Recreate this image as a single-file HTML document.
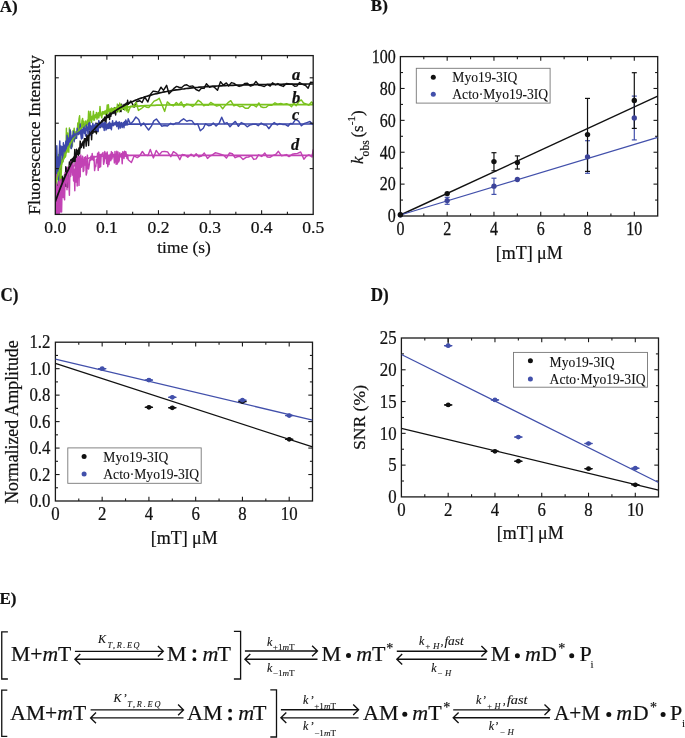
<!DOCTYPE html>
<html><head><meta charset="utf-8"><style>
html,body{margin:0;padding:0;background:#fff;width:685px;height:738px;overflow:hidden}
svg text{font-family:"Liberation Serif",serif;fill:#111;stroke:#111;stroke-width:0.22px}
</style></head><body>
<svg width="685" height="738" viewBox="0 0 685 738" style="position:absolute;left:0;top:0;filter:blur(0.3px);font-family:'Liberation Serif',serif">
<rect width="685" height="738" fill="#fff"/>
<text x="-0.20" y="11.60" font-size="17" text-anchor="start" style="font-weight:bold" >A)</text>
<text x="370.80" y="11.40" font-size="17" text-anchor="start" style="font-weight:bold" >B)</text>
<text transform="translate(0.50,300.90) scale(1,1.08)" font-size="17" text-anchor="start" style="font-weight:bold" >C)</text>
<text transform="translate(370.80,300.60) scale(1,1.08)" font-size="17" text-anchor="start" style="font-weight:bold" >D)</text>
<text x="-0.60" y="603.80" font-size="17" text-anchor="start" style="font-weight:bold" >E)</text>
<clipPath id="ca"><rect x="55.3" y="55.6" width="257.9" height="158.8"/></clipPath>
<g clip-path="url(#ca)">
<polyline points="55.6,216.4 56.2,196.5 56.8,216.4 57.4,187.7 58.0,185.0 58.6,181.1 59.2,204.2 59.8,179.9 60.4,204.7 61.0,176.7 61.6,190.8 62.2,176.3 62.8,187.9 63.4,178.2 64.0,181.4 64.6,174.6 65.2,186.2 65.8,166.8 66.4,186.2 67.0,168.1 67.6,187.2 68.2,167.9 68.8,171.7 69.4,161.9 70.0,170.4 70.6,160.0 71.2,159.6 71.8,171.7 72.4,158.5 73.0,162.0 73.6,157.3 74.2,161.2 74.8,149.4 75.4,165.3 76.0,161.2 76.6,149.3 77.2,154.2 77.8,150.4 78.4,155.7 79.0,148.1 79.6,153.8 80.2,141.1 80.8,145.3 81.4,147.5 82.0,143.9 82.6,142.9 83.2,141.2 83.8,148.1 84.4,138.8 85.0,138.7 85.6,138.7 86.2,146.1 86.8,134.8 87.4,140.4 88.0,136.0 88.6,145.5 89.2,131.0 89.8,133.3 90.4,134.6 91.0,126.8 91.6,139.7 92.2,127.1 92.8,133.3 93.4,129.5 94.0,132.0 94.6,128.0 95.2,132.1 95.8,123.3 96.4,133.8 97.0,123.3 97.6,131.6 98.2,125.9 98.8,121.9 99.4,127.2 100.0,122.6 100.6,127.3 101.2,123.2 101.8,120.7 102.4,122.0 103.0,119.2 103.6,120.6 104.2,118.4 104.8,116.9 105.4,125.3 106.0,122.0 106.6,112.6 107.2,117.7 107.8,115.7 108.4,117.3 109.0,114.2 109.6,119.5 110.2,111.9 110.8,116.3 111.4,112.8 112.0,113.8 112.6,111.8 113.2,110.5 113.8,113.4 114.4,107.7 115.0,110.4 115.6,115.0 116.2,109.6 116.8,108.6 117.4,111.5 118.0,104.9 118.6,109.5 119.2,106.6 119.8,111.3 120.4,108.3 121.0,111.6 121.6,104.3 122.2,107.5 122.8,106.9 123.4,109.2 124.0,104.4 124.6,105.9 125.2,104.0 125.8,107.3 126.4,102.9 127.0,109.5 127.6,100.3 128.2,104.2 130.9,101.0 134.1,107.2 136.4,101.8 139.6,100.7 142.1,102.5 144.7,97.0 147.8,101.9 150.4,94.4 153.1,91.1 155.3,91.5 158.3,92.1 161.0,87.2 163.5,90.4 166.6,85.3 169.0,93.8 171.7,91.1 174.0,88.3 176.6,86.4 179.0,87.3 181.4,87.8 184.4,85.3 186.8,84.8 189.5,86.5 192.8,85.9 196.0,89.5 198.9,90.9 201.6,88.1 204.1,88.4 206.4,83.7 209.6,87.2 212.4,86.4 214.6,87.4 217.5,90.2 220.5,81.7 223.3,85.1 226.4,82.9 228.6,86.0 231.4,82.6 234.0,83.4 236.3,85.1 239.1,86.4 242.2,85.5 245.0,83.4 247.4,83.3 250.5,86.1 253.2,85.1 255.9,81.4 258.9,85.3 261.2,85.6 264.3,86.5 267.2,84.4 270.2,86.0 272.5,82.8 275.6,84.9 277.9,83.6 280.2,85.3 283.3,86.4 286.4,83.5 289.5,83.9 292.1,84.1 294.6,86.3 296.8,86.1 299.6,82.5 302.5,84.4 305.6,85.5 308.1,88.3 310.5,82.3 313.2,82.5" fill="none" stroke="#111111" stroke-width="1.45" stroke-linejoin="round" opacity="1"/>
<polyline points="55.6,155.5 56.2,208.3 56.8,156.5 57.4,158.6 58.0,179.3 58.6,154.4 59.2,162.1 59.8,182.8 60.4,159.2 61.0,178.5 61.6,165.6 62.2,151.2 62.8,162.1 63.4,150.8 64.0,158.8 64.6,151.2 65.2,157.3 65.8,155.7 66.4,128.2 67.0,152.3 67.6,132.9 68.2,149.5 68.8,152.2 69.4,127.9 70.0,142.1 70.6,147.8 71.2,138.1 71.8,143.6 72.4,146.1 73.0,130.8 73.6,132.4 74.2,128.2 74.8,134.4 75.4,138.7 76.0,131.7 76.6,135.2 77.2,133.5 77.8,123.0 78.4,132.6 79.0,119.2 79.6,115.8 80.2,130.3 80.8,124.5 81.4,128.4 82.0,120.4 82.6,118.4 83.2,127.0 83.8,121.3 84.4,130.3 85.0,128.0 85.6,121.0 86.2,124.9 86.8,125.7 87.4,120.3 88.0,124.8 88.6,111.2 89.2,125.2 89.8,118.3 90.4,111.5 91.0,119.8 91.6,122.3 92.2,116.3 92.8,119.0 93.4,111.2 94.0,120.4 94.6,118.9 95.2,114.8 95.8,117.6 96.4,112.5 97.0,119.2 97.6,116.4 98.2,112.7 98.8,117.9 99.4,114.9 100.0,106.4 100.6,114.6 101.2,116.0 101.8,117.8 102.4,111.6 103.0,114.4 103.6,111.8 104.2,113.7 104.8,111.1 105.4,114.4 106.0,110.4 106.6,113.0 107.2,105.0 107.8,113.6 108.4,104.7 109.0,111.5 109.6,109.6 110.2,108.9 110.8,111.9 111.4,108.0 112.0,112.8 112.6,108.4 113.2,110.4 113.8,108.6 114.4,109.9 115.0,107.6 115.6,109.9 116.2,107.5 116.8,112.2 117.4,104.1 118.0,110.4 118.6,106.6 119.2,112.0 119.8,103.1 120.4,109.6 121.0,104.7 121.6,109.6 122.2,106.6 122.8,108.3 123.4,106.7 124.0,106.9 124.6,110.0 125.2,105.9 125.8,104.8 126.4,110.9 127.0,104.4 127.6,108.1 128.2,112.6 130.6,106.3 133.1,106.2 136.2,102.4 138.4,110.4 141.2,108.7 144.2,106.2 146.5,107.2 148.8,107.5 151.2,104.6 154.1,101.1 156.9,100.0 159.2,98.3 161.8,104.5 164.7,111.4 167.3,101.9 170.1,104.4 173.4,105.9 176.3,102.5 178.8,104.7 181.2,101.9 183.7,107.0 186.4,103.9 189.6,104.7 192.6,106.4 195.1,104.2 198.2,100.3 200.9,102.1 203.8,105.7 206.1,104.8 208.3,105.2 210.7,102.4 213.8,104.3 216.7,106.1 219.8,105.1 222.7,108.8 225.3,105.4 228.0,102.7 230.8,100.7 233.9,105.8 236.5,104.8 239.6,106.7 242.5,106.1 245.5,108.3 248.2,108.2 251.1,104.9 253.6,105.2 256.4,106.9 258.8,102.9 261.0,106.8 263.2,107.5 266.2,107.3 268.8,105.0 271.9,105.3 275.0,102.8 277.6,104.2 280.8,103.4 283.6,104.4 286.6,103.7 289.2,104.8 291.5,106.8 293.9,102.9 296.2,105.7 299.1,101.4 301.3,99.9 303.5,103.0 306.6,104.1 308.8,105.2 311.5,101.9 313.2,103.7" fill="none" stroke="#7ac21e" stroke-width="1.45" stroke-linejoin="round" opacity="1"/>
<polyline points="55.6,152.6 56.2,196.5 56.8,145.8 57.4,170.7 58.0,157.3 58.6,180.0 59.2,153.3 59.8,140.9 60.4,169.0 61.0,146.0 61.6,154.9 62.2,146.8 62.8,161.2 63.4,142.8 64.0,151.1 64.6,145.3 65.2,153.4 65.8,141.2 66.4,151.0 67.0,135.2 67.6,139.1 68.2,146.3 68.8,138.0 69.4,142.1 70.0,129.8 70.6,131.8 71.2,148.6 71.8,147.3 72.4,135.2 73.0,139.9 73.6,131.5 74.2,141.7 74.8,134.0 75.4,138.1 76.0,133.2 76.6,138.3 77.2,128.3 77.8,131.5 78.4,134.6 79.0,130.4 79.6,133.8 80.2,124.0 80.8,134.4 81.4,139.0 82.0,129.6 82.6,138.1 83.2,126.4 83.8,124.6 84.4,133.5 85.0,128.6 85.6,136.0 86.2,124.8 86.8,130.5 87.4,126.9 88.0,134.0 88.6,123.2 89.2,129.2 89.8,122.2 90.4,135.0 91.0,125.8 91.6,131.9 92.2,131.5 92.8,123.3 93.4,130.3 94.0,125.3 94.6,130.4 95.2,124.3 95.8,123.8 96.4,130.1 97.0,124.5 97.6,130.4 98.2,131.5 98.8,120.5 99.4,125.2 100.0,127.8 100.6,124.1 101.2,126.6 101.8,122.5 102.4,125.0 103.0,127.6 103.6,122.9 104.2,130.5 104.8,122.9 105.4,122.5 106.0,130.1 106.6,128.2 107.2,124.2 107.8,128.6 108.4,123.2 109.0,128.2 109.6,122.1 110.2,128.2 110.8,123.6 111.4,129.7 112.0,124.1 112.6,120.8 113.2,125.7 113.8,123.9 114.4,122.8 115.0,123.8 115.6,122.9 116.2,121.1 116.8,126.6 117.4,122.4 118.0,122.6 118.6,128.9 119.2,121.8 119.8,125.1 120.4,128.0 121.0,122.5 121.6,122.6 122.2,127.6 122.8,125.2 123.4,122.6 124.0,127.7 124.6,121.4 125.2,125.2 125.8,119.9 126.4,121.7 127.0,125.1 127.6,122.9 128.2,118.8 130.5,124.1 132.9,121.6 135.9,117.0 138.7,119.5 140.9,125.8 143.6,122.9 146.2,126.9 148.6,130.0 151.5,125.9 153.8,120.9 156.4,119.0 159.1,122.5 161.7,126.2 164.5,125.5 167.5,126.0 170.7,123.3 173.2,124.6 176.0,122.9 178.9,122.8 181.4,120.3 183.6,118.8 186.8,121.3 189.3,120.4 191.8,120.6 194.9,124.6 197.7,123.9 200.3,130.8 203.3,128.2 205.5,123.8 208.5,125.7 211.0,125.3 213.3,122.9 216.1,126.1 219.3,122.9 221.7,117.2 224.5,123.6 227.0,122.6 230.0,126.7 232.9,123.5 235.3,121.4 238.4,126.3 241.2,122.6 244.1,124.0 247.2,126.8 249.8,125.1 252.8,124.2 255.9,124.2 258.2,125.7 261.2,123.0 263.8,124.8 266.5,125.3 268.8,128.7 271.7,124.8 274.2,122.6 277.3,124.9 279.8,123.6 282.5,124.4 285.1,124.4 288.0,126.2 290.3,123.5 292.7,123.7 295.6,119.4 298.6,121.1 301.4,125.8 304.5,123.4 306.9,122.6 310.0,121.5 312.4,124.2 313.2,124.4" fill="none" stroke="#3c48aa" stroke-width="1.45" stroke-linejoin="round" opacity="1"/>
<polyline points="55.6,216.4 56.2,174.5 56.8,213.7 57.4,186.4 58.0,216.4 58.6,181.7 59.2,216.4 59.8,181.2 60.4,211.9 61.0,179.2 61.6,212.1 62.2,183.1 62.8,197.4 63.4,181.1 64.0,197.3 64.6,199.7 65.2,172.6 65.8,182.9 66.4,173.5 67.0,189.7 67.6,167.2 68.2,180.7 68.8,182.8 69.4,195.3 70.0,165.6 70.6,176.5 71.2,161.4 71.8,164.4 72.4,175.1 73.0,162.9 73.6,181.0 74.2,169.2 74.8,190.8 75.4,162.6 76.0,182.1 76.6,158.4 77.2,186.1 77.8,156.1 78.4,159.4 79.0,185.4 79.6,156.4 80.2,176.8 80.8,155.0 81.4,167.2 82.0,162.9 82.6,156.3 83.2,171.6 83.8,170.7 84.4,157.4 85.0,165.0 85.6,156.7 86.2,175.1 86.8,172.5 87.4,155.1 88.0,168.2 88.6,169.0 89.2,165.1 89.8,159.7 90.4,160.4 91.0,156.2 91.6,159.8 92.2,153.5 92.8,159.4 93.4,160.5 94.0,156.3 94.6,170.6 95.2,166.0 95.8,166.5 96.4,159.5 97.0,162.8 97.6,153.3 98.2,170.4 98.8,152.1 99.4,167.4 100.0,154.4 100.6,166.7 101.2,154.3 101.8,154.7 102.4,154.0 103.0,152.5 103.6,164.3 104.2,161.6 104.8,151.5 105.4,158.5 106.0,153.3 106.6,163.5 107.2,152.0 107.8,166.7 108.4,155.3 109.0,164.6 109.6,158.0 110.2,154.2 110.8,160.7 111.4,151.6 112.0,158.9 112.6,152.8 113.2,156.7 113.8,154.7 114.4,162.9 115.0,151.4 115.6,158.9 116.2,164.3 116.8,151.2 117.4,163.9 118.0,151.9 118.6,162.1 119.2,160.5 119.8,152.8 120.4,156.5 121.0,157.0 121.6,153.5 122.2,163.7 122.8,151.8 123.4,152.4 124.0,158.5 124.6,151.3 125.2,156.4 125.8,151.7 126.4,154.6 127.0,158.5 127.6,154.9 128.2,159.7 131.4,162.5 134.1,155.9 137.3,157.6 139.6,155.9 142.4,151.5 144.9,155.0 148.0,155.5 150.3,149.5 153.4,157.9 156.2,150.4 159.3,154.8 162.0,151.6 164.6,151.5 167.6,151.9 170.8,156.7 173.4,151.7 176.6,153.7 179.8,159.7 182.1,154.5 184.9,155.0 187.8,157.2 191.0,154.2 193.9,156.4 196.2,153.8 198.9,156.9 201.6,156.0 204.3,153.0 207.5,158.4 210.0,156.0 212.4,154.8 215.2,152.8 218.0,153.4 221.2,154.5 224.0,155.5 226.4,158.1 229.6,153.0 232.3,153.8 235.2,157.7 237.8,156.5 240.2,156.6 243.1,159.4 246.1,157.3 248.5,157.0 251.2,155.7 253.7,159.4 256.1,158.9 258.5,154.8 261.7,156.4 264.8,153.1 267.3,157.0 270.3,157.3 272.5,155.6 275.7,154.5 278.4,151.3 281.4,155.7 283.9,155.2 286.5,154.6 289.0,156.6 292.2,154.3 294.8,153.8 297.5,153.4 300.7,152.0 303.9,159.2 306.4,156.1 308.9,154.8 312.0,157.0 313.2,149.4" fill="none" stroke="#c242b4" stroke-width="1.45" stroke-linejoin="round" opacity="1"/>
<polyline points="55.3,184.6 55.7,183.0 56.1,181.5 56.6,180.0 57.0,178.5 57.4,177.0 57.8,175.6 58.2,174.2 58.6,172.8 59.1,171.5 59.5,170.1 59.9,168.8 60.3,167.6 60.7,166.3 61.2,165.1 61.6,163.9 62.0,162.8 62.4,161.6 62.8,160.5 63.3,159.4 63.7,158.3 64.1,157.2 64.5,156.2 64.9,155.2 65.3,154.2 65.8,153.2 66.2,152.2 66.6,151.3 67.0,150.4 67.4,149.5 67.9,148.6 68.3,147.7 68.7,146.9 69.1,146.0 69.5,145.2 70.0,144.4 70.4,143.6 70.8,142.9 71.2,142.1 71.6,141.4 72.0,140.6 72.5,139.9 72.9,139.2 73.3,138.5 73.7,137.9 74.1,137.2 74.6,136.6 75.0,135.9 75.4,135.3 75.8,134.7 76.2,134.1 76.7,133.5 77.1,133.0 77.5,132.4 77.9,131.9 78.3,131.3 78.7,130.8 79.2,130.3 79.6,129.8 80.0,129.3 80.5,128.7 82.5,126.6 84.4,124.6 86.4,122.8 88.3,121.2 90.3,119.7 92.2,118.4 94.2,117.2 96.1,116.0 98.1,115.0 100.1,114.1 102.0,113.3 104.0,112.5 105.9,111.8 107.9,111.1 109.8,110.6 111.8,110.0 113.7,109.5 115.7,109.1 117.7,108.7 119.6,108.3 121.6,108.0 123.5,107.7 125.5,107.4 127.4,107.2 129.4,106.9 131.3,106.7 133.3,106.6 135.3,106.4 137.2,106.2 139.2,106.1 141.1,105.9 143.1,105.8 145.0,105.7 147.0,105.6 148.9,105.5 150.9,105.4 152.9,105.4 154.8,105.3 156.8,105.2 158.7,105.2 160.7,105.1 162.6,105.1 164.6,105.0 166.5,105.0 168.5,105.0 170.5,104.9 172.4,104.9 174.4,104.9 176.3,104.9 178.3,104.8 180.2,104.8 182.2,104.8 184.1,104.8 186.1,104.8 188.1,104.7 190.0,104.7 192.0,104.7 193.9,104.7 195.9,104.7 197.8,104.7 199.8,104.7 201.7,104.7 203.7,104.7 205.6,104.7 207.6,104.7 209.6,104.7 211.5,104.6 213.5,104.6 215.4,104.6 217.4,104.6 219.3,104.6 221.3,104.6 223.2,104.6 225.2,104.6 227.2,104.6 229.1,104.6 231.1,104.6 233.0,104.6 235.0,104.6 236.9,104.6 238.9,104.6 240.8,104.6 242.8,104.6 244.8,104.6 246.7,104.6 248.7,104.6 250.6,104.6 252.6,104.6 254.5,104.6 256.5,104.6 258.4,104.6 260.4,104.6 262.4,104.6 264.3,104.6 266.3,104.6 268.2,104.6 270.2,104.6 272.1,104.6 274.1,104.6 276.0,104.6 278.0,104.6 280.0,104.6 281.9,104.6 283.9,104.6 285.8,104.6 287.8,104.6 289.7,104.6 291.7,104.6 293.6,104.6 295.6,104.6 297.6,104.6 299.5,104.6 301.5,104.6 303.4,104.6 305.4,104.6 307.3,104.6 309.3,104.6 311.2,104.6 313.2,104.6" fill="none" stroke="#7ac21e" stroke-width="1.7" stroke-linejoin="round" opacity="1"/>
<polyline points="55.3,169.0 55.7,167.7 56.1,166.4 56.6,165.1 57.0,163.9 57.4,162.8 57.8,161.6 58.2,160.5 58.6,159.4 59.1,158.4 59.5,157.4 59.9,156.4 60.3,155.4 60.7,154.5 61.2,153.6 61.6,152.7 62.0,151.9 62.4,151.1 62.8,150.3 63.3,149.5 63.7,148.7 64.1,148.0 64.5,147.3 64.9,146.6 65.3,146.0 65.8,145.3 66.2,144.7 66.6,144.1 67.0,143.5 67.4,142.9 67.9,142.3 68.3,141.8 68.7,141.3 69.1,140.8 69.5,140.3 70.0,139.8 70.4,139.3 70.8,138.9 71.2,138.4 71.6,138.0 72.0,137.6 72.5,137.2 72.9,136.8 73.3,136.4 73.7,136.1 74.1,135.7 74.6,135.4 75.0,135.0 75.4,134.7 75.8,134.4 76.2,134.1 76.7,133.8 77.1,133.5 77.5,133.2 77.9,133.0 78.3,132.7 78.7,132.4 79.2,132.2 79.6,131.9 80.0,131.7 80.5,131.4 82.5,130.5 84.4,129.6 86.4,128.9 88.3,128.3 90.3,127.7 92.2,127.2 94.2,126.8 96.1,126.4 98.1,126.1 100.1,125.8 102.0,125.6 104.0,125.4 105.9,125.2 107.9,125.1 109.8,124.9 111.8,124.8 113.7,124.7 115.7,124.6 117.7,124.5 119.6,124.5 121.6,124.4 123.5,124.3 125.5,124.3 127.4,124.3 129.4,124.2 131.3,124.2 133.3,124.2 135.3,124.1 137.2,124.1 139.2,124.1 141.1,124.1 143.1,124.1 145.0,124.1 147.0,124.1 148.9,124.1 150.9,124.0 152.9,124.0 154.8,124.0 156.8,124.0 158.7,124.0 160.7,124.0 162.6,124.0 164.6,124.0 166.5,124.0 168.5,124.0 170.5,124.0 172.4,124.0 174.4,124.0 176.3,124.0 178.3,124.0 180.2,124.0 182.2,124.0 184.1,124.0 186.1,124.0 188.1,124.0 190.0,124.0 192.0,124.0 193.9,124.0 195.9,124.0 197.8,124.0 199.8,124.0 201.7,124.0 203.7,124.0 205.6,124.0 207.6,124.0 209.6,124.0 211.5,124.0 213.5,124.0 215.4,124.0 217.4,124.0 219.3,124.0 221.3,124.0 223.2,124.0 225.2,124.0 227.2,124.0 229.1,124.0 231.1,124.0 233.0,124.0 235.0,124.0 236.9,124.0 238.9,124.0 240.8,124.0 242.8,124.0 244.8,124.0 246.7,124.0 248.7,124.0 250.6,124.0 252.6,124.0 254.5,124.0 256.5,124.0 258.4,124.0 260.4,124.0 262.4,124.0 264.3,124.0 266.3,124.0 268.2,124.0 270.2,124.0 272.1,124.0 274.1,124.0 276.0,124.0 278.0,124.0 280.0,124.0 281.9,124.0 283.9,124.0 285.8,124.0 287.8,124.0 289.7,124.0 291.7,124.0 293.6,124.0 295.6,124.0 297.6,124.0 299.5,124.0 301.5,124.0 303.4,124.0 305.4,124.0 307.3,124.0 309.3,124.0 311.2,124.0 313.2,124.0" fill="none" stroke="#3c48aa" stroke-width="1.7" stroke-linejoin="round" opacity="1"/>
<polyline points="55.3,213.3 55.7,211.1 56.1,209.0 56.6,207.0 57.0,205.1 57.4,203.2 57.8,201.5 58.2,199.7 58.6,198.1 59.1,196.5 59.5,194.9 59.9,193.5 60.3,192.0 60.7,190.7 61.2,189.3 61.6,188.1 62.0,186.8 62.4,185.7 62.8,184.5 63.3,183.4 63.7,182.4 64.1,181.4 64.5,180.4 64.9,179.5 65.3,178.6 65.8,177.7 66.2,176.9 66.6,176.1 67.0,175.3 67.4,174.5 67.9,173.8 68.3,173.1 68.7,172.5 69.1,171.8 69.5,171.2 70.0,170.6 70.4,170.0 70.8,169.5 71.2,169.0 71.6,168.4 72.0,168.0 72.5,167.5 72.9,167.0 73.3,166.6 73.7,166.2 74.1,165.8 74.6,165.4 75.0,165.0 75.4,164.6 75.8,164.3 76.2,163.9 76.7,163.6 77.1,163.3 77.5,163.0 77.9,162.7 78.3,162.5 78.7,162.2 79.2,161.9 79.6,161.7 80.0,161.4 80.5,161.2 82.5,160.2 84.4,159.4 86.4,158.7 88.3,158.2 90.3,157.7 92.2,157.3 94.2,157.0 96.1,156.7 98.1,156.5 100.1,156.3 102.0,156.1 104.0,156.0 105.9,155.9 107.9,155.8 109.8,155.7 111.8,155.6 113.7,155.6 115.7,155.5 117.7,155.5 119.6,155.5 121.6,155.4 123.5,155.4 125.5,155.4 127.4,155.4 129.4,155.4 131.3,155.4 133.3,155.3 135.3,155.3 137.2,155.3 139.2,155.3 141.1,155.3 143.1,155.3 145.0,155.3 147.0,155.3 148.9,155.3 150.9,155.3 152.9,155.3 154.8,155.3 156.8,155.3 158.7,155.3 160.7,155.3 162.6,155.3 164.6,155.3 166.5,155.3 168.5,155.3 170.5,155.3 172.4,155.3 174.4,155.3 176.3,155.3 178.3,155.3 180.2,155.3 182.2,155.3 184.1,155.3 186.1,155.3 188.1,155.3 190.0,155.3 192.0,155.3 193.9,155.3 195.9,155.3 197.8,155.3 199.8,155.3 201.7,155.3 203.7,155.3 205.6,155.3 207.6,155.3 209.6,155.3 211.5,155.3 213.5,155.3 215.4,155.3 217.4,155.3 219.3,155.3 221.3,155.3 223.2,155.3 225.2,155.3 227.2,155.3 229.1,155.3 231.1,155.3 233.0,155.3 235.0,155.3 236.9,155.3 238.9,155.3 240.8,155.3 242.8,155.3 244.8,155.3 246.7,155.3 248.7,155.3 250.6,155.3 252.6,155.3 254.5,155.3 256.5,155.3 258.4,155.3 260.4,155.3 262.4,155.3 264.3,155.3 266.3,155.3 268.2,155.3 270.2,155.3 272.1,155.3 274.1,155.3 276.0,155.3 278.0,155.3 280.0,155.3 281.9,155.3 283.9,155.3 285.8,155.3 287.8,155.3 289.7,155.3 291.7,155.3 293.6,155.3 295.6,155.3 297.6,155.3 299.5,155.3 301.5,155.3 303.4,155.3 305.4,155.3 307.3,155.3 309.3,155.3 311.2,155.3 313.2,155.3" fill="none" stroke="#c242b4" stroke-width="1.7" stroke-linejoin="round" opacity="1"/>
<polyline points="55.3,201.8 55.7,200.6 56.1,199.4 56.6,198.2 57.0,197.0 57.4,195.9 57.8,194.7 58.2,193.6 58.6,192.5 59.1,191.4 59.5,190.3 59.9,189.2 60.3,188.1 60.7,187.0 61.2,186.0 61.6,184.9 62.0,183.9 62.4,182.9 62.8,181.9 63.3,180.9 63.7,179.9 64.1,178.9 64.5,177.9 64.9,176.9 65.3,176.0 65.8,175.0 66.2,174.1 66.6,173.2 67.0,172.3 67.4,171.4 67.9,170.5 68.3,169.6 68.7,168.7 69.1,167.8 69.5,167.0 70.0,166.1 70.4,165.3 70.8,164.4 71.2,163.6 71.6,162.8 72.0,162.0 72.5,161.2 72.9,160.4 73.3,159.6 73.7,158.8 74.1,158.1 74.6,157.3 75.0,156.6 75.4,155.8 75.8,155.1 76.2,154.4 76.7,153.6 77.1,152.9 77.5,152.2 77.9,151.5 78.3,150.8 78.7,150.1 79.2,149.5 79.6,148.8 80.0,148.1 80.5,147.3 82.5,144.4 84.4,141.5 86.4,138.8 88.3,136.2 90.3,133.8 92.2,131.4 94.2,129.2 96.1,127.1 98.1,125.0 100.1,123.1 102.0,121.3 104.0,119.5 105.9,117.8 107.9,116.2 109.8,114.7 111.8,113.3 113.7,111.9 115.7,110.6 117.7,109.3 119.6,108.1 121.6,107.0 123.5,105.9 125.5,104.8 127.4,103.9 129.4,102.9 131.3,102.0 133.3,101.2 135.3,100.3 137.2,99.6 139.2,98.8 141.1,98.1 143.1,97.5 145.0,96.8 147.0,96.2 148.9,95.6 150.9,95.1 152.9,94.5 154.8,94.0 156.8,93.6 158.7,93.1 160.7,92.7 162.6,92.2 164.6,91.8 166.5,91.5 168.5,91.1 170.5,90.8 172.4,90.4 174.4,90.1 176.3,89.8 178.3,89.6 180.2,89.3 182.2,89.0 184.1,88.8 186.1,88.5 188.1,88.3 190.0,88.1 192.0,87.9 193.9,87.7 195.9,87.5 197.8,87.4 199.8,87.2 201.7,87.0 203.7,86.9 205.6,86.7 207.6,86.6 209.6,86.5 211.5,86.3 213.5,86.2 215.4,86.1 217.4,86.0 219.3,85.9 221.3,85.8 223.2,85.7 225.2,85.6 227.2,85.5 229.1,85.4 231.1,85.4 233.0,85.3 235.0,85.2 236.9,85.2 238.9,85.1 240.8,85.0 242.8,85.0 244.8,84.9 246.7,84.9 248.7,84.8 250.6,84.8 252.6,84.7 254.5,84.7 256.5,84.6 258.4,84.6 260.4,84.6 262.4,84.5 264.3,84.5 266.3,84.5 268.2,84.4 270.2,84.4 272.1,84.4 274.1,84.3 276.0,84.3 278.0,84.3 280.0,84.3 281.9,84.3 283.9,84.2 285.8,84.2 287.8,84.2 289.7,84.2 291.7,84.2 293.6,84.1 295.6,84.1 297.6,84.1 299.5,84.1 301.5,84.1 303.4,84.1 305.4,84.1 307.3,84.0 309.3,84.0 311.2,84.0 313.2,84.0" fill="none" stroke="#111111" stroke-width="1.7" stroke-linejoin="round" opacity="1"/>
</g>
<rect x="55.30" y="55.60" width="257.90" height="158.80" fill="none" stroke="#1a1a1a" stroke-width="1.3"/>
<line x1="106.88" y1="214.40" x2="106.88" y2="210.20" stroke="#1a1a1a" stroke-width="1.1" />
<line x1="106.88" y1="55.60" x2="106.88" y2="59.80" stroke="#1a1a1a" stroke-width="1.1" />
<line x1="158.46" y1="214.40" x2="158.46" y2="210.20" stroke="#1a1a1a" stroke-width="1.1" />
<line x1="158.46" y1="55.60" x2="158.46" y2="59.80" stroke="#1a1a1a" stroke-width="1.1" />
<line x1="210.04" y1="214.40" x2="210.04" y2="210.20" stroke="#1a1a1a" stroke-width="1.1" />
<line x1="210.04" y1="55.60" x2="210.04" y2="59.80" stroke="#1a1a1a" stroke-width="1.1" />
<line x1="261.62" y1="214.40" x2="261.62" y2="210.20" stroke="#1a1a1a" stroke-width="1.1" />
<line x1="261.62" y1="55.60" x2="261.62" y2="59.80" stroke="#1a1a1a" stroke-width="1.1" />
<line x1="81.09" y1="214.40" x2="81.09" y2="211.80" stroke="#1a1a1a" stroke-width="1.1" />
<line x1="81.09" y1="55.60" x2="81.09" y2="58.20" stroke="#1a1a1a" stroke-width="1.1" />
<line x1="132.67" y1="214.40" x2="132.67" y2="211.80" stroke="#1a1a1a" stroke-width="1.1" />
<line x1="132.67" y1="55.60" x2="132.67" y2="58.20" stroke="#1a1a1a" stroke-width="1.1" />
<line x1="184.25" y1="214.40" x2="184.25" y2="211.80" stroke="#1a1a1a" stroke-width="1.1" />
<line x1="184.25" y1="55.60" x2="184.25" y2="58.20" stroke="#1a1a1a" stroke-width="1.1" />
<line x1="235.83" y1="214.40" x2="235.83" y2="211.80" stroke="#1a1a1a" stroke-width="1.1" />
<line x1="235.83" y1="55.60" x2="235.83" y2="58.20" stroke="#1a1a1a" stroke-width="1.1" />
<line x1="287.41" y1="214.40" x2="287.41" y2="211.80" stroke="#1a1a1a" stroke-width="1.1" />
<line x1="287.41" y1="55.60" x2="287.41" y2="58.20" stroke="#1a1a1a" stroke-width="1.1" />
<line x1="55.30" y1="77.80" x2="58.80" y2="77.80" stroke="#1a1a1a" stroke-width="1.1" />
<line x1="313.20" y1="77.80" x2="309.70" y2="77.80" stroke="#1a1a1a" stroke-width="1.1" />
<line x1="55.30" y1="123.20" x2="58.80" y2="123.20" stroke="#1a1a1a" stroke-width="1.1" />
<line x1="313.20" y1="123.20" x2="309.70" y2="123.20" stroke="#1a1a1a" stroke-width="1.1" />
<line x1="55.30" y1="168.60" x2="58.80" y2="168.60" stroke="#1a1a1a" stroke-width="1.1" />
<line x1="313.20" y1="168.60" x2="309.70" y2="168.60" stroke="#1a1a1a" stroke-width="1.1" />
<text transform="translate(55.30,232.90) scale(1,0.92)" font-size="17.6" text-anchor="middle" style="" >0.0</text>
<text transform="translate(106.88,232.90) scale(1,0.92)" font-size="17.6" text-anchor="middle" style="" >0.1</text>
<text transform="translate(158.46,232.90) scale(1,0.92)" font-size="17.6" text-anchor="middle" style="" >0.2</text>
<text transform="translate(210.04,232.90) scale(1,0.92)" font-size="17.6" text-anchor="middle" style="" >0.3</text>
<text transform="translate(261.62,232.90) scale(1,0.92)" font-size="17.6" text-anchor="middle" style="" >0.4</text>
<text transform="translate(313.20,232.90) scale(1,0.92)" font-size="17.6" text-anchor="middle" style="" >0.5</text>
<text transform="translate(184.00,252.60) scale(1,0.95)" font-size="17.35" text-anchor="middle" style="" >time (s)</text>
<text transform="translate(39.6,135.0) rotate(-90)" font-size="17.7" text-anchor="middle">Fluorescence Intensity</text>
<text x="292.00" y="79.60" font-size="16.5" text-anchor="start" style="font-weight:bold;font-style:italic" >a</text>
<text x="292.00" y="102.80" font-size="16.5" text-anchor="start" style="font-weight:bold;font-style:italic" >b</text>
<text x="292.00" y="119.50" font-size="16.5" text-anchor="start" style="font-weight:bold;font-style:italic" >c</text>
<text x="291.00" y="150.00" font-size="16.5" text-anchor="start" style="font-weight:bold;font-style:italic" >d</text>
<rect x="400.40" y="56.60" width="257.30" height="159.40" fill="none" stroke="#1a1a1a" stroke-width="1.3"/>
<line x1="447.18" y1="216.00" x2="447.18" y2="211.80" stroke="#1a1a1a" stroke-width="1.1" />
<line x1="447.18" y1="56.60" x2="447.18" y2="60.80" stroke="#1a1a1a" stroke-width="1.1" />
<line x1="493.96" y1="216.00" x2="493.96" y2="211.80" stroke="#1a1a1a" stroke-width="1.1" />
<line x1="493.96" y1="56.60" x2="493.96" y2="60.80" stroke="#1a1a1a" stroke-width="1.1" />
<line x1="540.74" y1="216.00" x2="540.74" y2="211.80" stroke="#1a1a1a" stroke-width="1.1" />
<line x1="540.74" y1="56.60" x2="540.74" y2="60.80" stroke="#1a1a1a" stroke-width="1.1" />
<line x1="587.52" y1="216.00" x2="587.52" y2="211.80" stroke="#1a1a1a" stroke-width="1.1" />
<line x1="587.52" y1="56.60" x2="587.52" y2="60.80" stroke="#1a1a1a" stroke-width="1.1" />
<line x1="634.30" y1="216.00" x2="634.30" y2="211.80" stroke="#1a1a1a" stroke-width="1.1" />
<line x1="634.30" y1="56.60" x2="634.30" y2="60.80" stroke="#1a1a1a" stroke-width="1.1" />
<line x1="423.79" y1="216.00" x2="423.79" y2="213.40" stroke="#1a1a1a" stroke-width="1.1" />
<line x1="423.79" y1="56.60" x2="423.79" y2="59.20" stroke="#1a1a1a" stroke-width="1.1" />
<line x1="470.57" y1="216.00" x2="470.57" y2="213.40" stroke="#1a1a1a" stroke-width="1.1" />
<line x1="470.57" y1="56.60" x2="470.57" y2="59.20" stroke="#1a1a1a" stroke-width="1.1" />
<line x1="517.35" y1="216.00" x2="517.35" y2="213.40" stroke="#1a1a1a" stroke-width="1.1" />
<line x1="517.35" y1="56.60" x2="517.35" y2="59.20" stroke="#1a1a1a" stroke-width="1.1" />
<line x1="564.13" y1="216.00" x2="564.13" y2="213.40" stroke="#1a1a1a" stroke-width="1.1" />
<line x1="564.13" y1="56.60" x2="564.13" y2="59.20" stroke="#1a1a1a" stroke-width="1.1" />
<line x1="610.91" y1="216.00" x2="610.91" y2="213.40" stroke="#1a1a1a" stroke-width="1.1" />
<line x1="610.91" y1="56.60" x2="610.91" y2="59.20" stroke="#1a1a1a" stroke-width="1.1" />
<line x1="400.40" y1="184.12" x2="404.60" y2="184.12" stroke="#1a1a1a" stroke-width="1.1" />
<line x1="657.70" y1="184.12" x2="653.50" y2="184.12" stroke="#1a1a1a" stroke-width="1.1" />
<line x1="400.40" y1="152.24" x2="404.60" y2="152.24" stroke="#1a1a1a" stroke-width="1.1" />
<line x1="657.70" y1="152.24" x2="653.50" y2="152.24" stroke="#1a1a1a" stroke-width="1.1" />
<line x1="400.40" y1="120.36" x2="404.60" y2="120.36" stroke="#1a1a1a" stroke-width="1.1" />
<line x1="657.70" y1="120.36" x2="653.50" y2="120.36" stroke="#1a1a1a" stroke-width="1.1" />
<line x1="400.40" y1="88.48" x2="404.60" y2="88.48" stroke="#1a1a1a" stroke-width="1.1" />
<line x1="657.70" y1="88.48" x2="653.50" y2="88.48" stroke="#1a1a1a" stroke-width="1.1" />
<line x1="400.40" y1="200.06" x2="403.00" y2="200.06" stroke="#1a1a1a" stroke-width="1.1" />
<line x1="657.70" y1="200.06" x2="655.10" y2="200.06" stroke="#1a1a1a" stroke-width="1.1" />
<line x1="400.40" y1="168.18" x2="403.00" y2="168.18" stroke="#1a1a1a" stroke-width="1.1" />
<line x1="657.70" y1="168.18" x2="655.10" y2="168.18" stroke="#1a1a1a" stroke-width="1.1" />
<line x1="400.40" y1="136.30" x2="403.00" y2="136.30" stroke="#1a1a1a" stroke-width="1.1" />
<line x1="657.70" y1="136.30" x2="655.10" y2="136.30" stroke="#1a1a1a" stroke-width="1.1" />
<line x1="400.40" y1="104.42" x2="403.00" y2="104.42" stroke="#1a1a1a" stroke-width="1.1" />
<line x1="657.70" y1="104.42" x2="655.10" y2="104.42" stroke="#1a1a1a" stroke-width="1.1" />
<line x1="400.40" y1="72.54" x2="403.00" y2="72.54" stroke="#1a1a1a" stroke-width="1.1" />
<line x1="657.70" y1="72.54" x2="655.10" y2="72.54" stroke="#1a1a1a" stroke-width="1.1" />
<text transform="translate(395.80,222.30) scale(1,1.15)" font-size="16" text-anchor="end" style="" >0</text>
<text transform="translate(395.80,190.42) scale(1,1.15)" font-size="16" text-anchor="end" style="" >20</text>
<text transform="translate(395.80,158.54) scale(1,1.15)" font-size="16" text-anchor="end" style="" >40</text>
<text transform="translate(395.80,126.66) scale(1,1.15)" font-size="16" text-anchor="end" style="" >60</text>
<text transform="translate(395.80,94.78) scale(1,1.15)" font-size="16" text-anchor="end" style="" >80</text>
<text transform="translate(395.80,62.90) scale(1,1.15)" font-size="16" text-anchor="end" style="" >100</text>
<text transform="translate(400.40,235.00) scale(1,1.15)" font-size="16" text-anchor="middle" style="" >0</text>
<text transform="translate(447.18,235.00) scale(1,1.15)" font-size="16" text-anchor="middle" style="" >2</text>
<text transform="translate(493.96,235.00) scale(1,1.15)" font-size="16" text-anchor="middle" style="" >4</text>
<text transform="translate(540.74,235.00) scale(1,1.15)" font-size="16" text-anchor="middle" style="" >6</text>
<text transform="translate(587.52,235.00) scale(1,1.15)" font-size="16" text-anchor="middle" style="" >8</text>
<text transform="translate(634.30,235.00) scale(1,1.15)" font-size="16" text-anchor="middle" style="" >10</text>
<text transform="translate(529.20,258.50) scale(1,1.05)" font-size="17.95" text-anchor="middle" style="" >[mT] μM</text>
<text transform="translate(363.0,137.2) rotate(-90)" font-size="17" text-anchor="middle"><tspan font-style="italic">k</tspan><tspan font-size="11.6" dy="6">obs</tspan><tspan dy="-6" dx="-1.5"> (s</tspan><tspan font-size="11" dy="-8">-1</tspan><tspan dy="8">)</tspan></text>
<clipPath id="cb"><rect x="400.4" y="56.6" width="257.30000000000007" height="159.4"/></clipPath>
<g clip-path="url(#cb)">
<line x1="400.40" y1="215.00" x2="657.70" y2="96.20" stroke="#111" stroke-width="1.4" />
<line x1="400.40" y1="215.00" x2="657.70" y2="137.30" stroke="#4250ab" stroke-width="1.3" />
</g>
<line x1="447.18" y1="197.30" x2="447.18" y2="204.30" stroke="#4250ab" stroke-width="1.2" />
<line x1="444.68" y1="197.30" x2="449.68" y2="197.30" stroke="#4250ab" stroke-width="1.2" />
<line x1="444.68" y1="204.30" x2="449.68" y2="204.30" stroke="#4250ab" stroke-width="1.2" />
<line x1="493.96" y1="178.20" x2="493.96" y2="194.40" stroke="#4250ab" stroke-width="1.2" />
<line x1="491.46" y1="178.20" x2="496.46" y2="178.20" stroke="#4250ab" stroke-width="1.2" />
<line x1="491.46" y1="194.40" x2="496.46" y2="194.40" stroke="#4250ab" stroke-width="1.2" />
<line x1="587.52" y1="140.70" x2="587.52" y2="173.30" stroke="#4250ab" stroke-width="1.2" />
<line x1="585.02" y1="140.70" x2="590.02" y2="140.70" stroke="#4250ab" stroke-width="1.2" />
<line x1="585.02" y1="173.30" x2="590.02" y2="173.30" stroke="#4250ab" stroke-width="1.2" />
<line x1="634.30" y1="96.10" x2="634.30" y2="139.90" stroke="#4250ab" stroke-width="1.2" />
<line x1="631.80" y1="96.10" x2="636.80" y2="96.10" stroke="#4250ab" stroke-width="1.2" />
<line x1="631.80" y1="139.90" x2="636.80" y2="139.90" stroke="#4250ab" stroke-width="1.2" />
<line x1="493.96" y1="152.70" x2="493.96" y2="170.80" stroke="#111" stroke-width="1.2" />
<line x1="491.46" y1="152.70" x2="496.46" y2="152.70" stroke="#111" stroke-width="1.2" />
<line x1="491.46" y1="170.80" x2="496.46" y2="170.80" stroke="#111" stroke-width="1.2" />
<line x1="517.35" y1="155.90" x2="517.35" y2="169.00" stroke="#111" stroke-width="1.2" />
<line x1="514.85" y1="155.90" x2="519.85" y2="155.90" stroke="#111" stroke-width="1.2" />
<line x1="514.85" y1="169.00" x2="519.85" y2="169.00" stroke="#111" stroke-width="1.2" />
<line x1="587.52" y1="98.40" x2="587.52" y2="171.40" stroke="#111" stroke-width="1.2" />
<line x1="585.02" y1="98.40" x2="590.02" y2="98.40" stroke="#111" stroke-width="1.2" />
<line x1="585.02" y1="171.40" x2="590.02" y2="171.40" stroke="#111" stroke-width="1.2" />
<line x1="634.30" y1="72.70" x2="634.30" y2="128.40" stroke="#111" stroke-width="1.2" />
<line x1="631.80" y1="72.70" x2="636.80" y2="72.70" stroke="#111" stroke-width="1.2" />
<line x1="631.80" y1="128.40" x2="636.80" y2="128.40" stroke="#111" stroke-width="1.2" />
<circle cx="400.40" cy="214.80" r="2.65" fill="#3c4399"/>
<circle cx="447.18" cy="200.60" r="2.65" fill="#3c4399"/>
<circle cx="493.96" cy="186.20" r="2.65" fill="#3c4399"/>
<circle cx="517.35" cy="179.50" r="2.65" fill="#3c4399"/>
<circle cx="587.52" cy="156.80" r="2.65" fill="#3c4399"/>
<circle cx="634.30" cy="117.90" r="2.65" fill="#3c4399"/>
<circle cx="400.40" cy="214.80" r="2.7" fill="#111"/>
<circle cx="447.18" cy="193.60" r="2.7" fill="#111"/>
<circle cx="493.96" cy="161.60" r="2.7" fill="#111"/>
<circle cx="517.35" cy="162.60" r="2.7" fill="#111"/>
<circle cx="587.52" cy="134.60" r="2.7" fill="#111"/>
<circle cx="634.30" cy="100.50" r="2.7" fill="#111"/>
<rect x="416.3" y="68.3" width="133.8" height="34.8" fill="#fff" stroke="#777" stroke-width="0.9"/>
<circle cx="433.30" cy="77.20" r="2.5" fill="#111"/>
<circle cx="433.30" cy="94.30" r="2.5" fill="#4250ab"/>
<text x="452.30" y="82.00" font-size="13.6" text-anchor="start" style="stroke-width:0.08px" >Myo19-3IQ</text>
<text x="452.30" y="99.20" font-size="13.6" text-anchor="start" style="stroke-width:0.08px" >Acto·Myo19-3IQ</text>
<rect x="55.40" y="342.20" width="257.10" height="158.80" fill="none" stroke="#1a1a1a" stroke-width="1.3"/>
<line x1="102.16" y1="501.00" x2="102.16" y2="496.80" stroke="#1a1a1a" stroke-width="1.1" />
<line x1="102.16" y1="342.20" x2="102.16" y2="346.40" stroke="#1a1a1a" stroke-width="1.1" />
<line x1="148.92" y1="501.00" x2="148.92" y2="496.80" stroke="#1a1a1a" stroke-width="1.1" />
<line x1="148.92" y1="342.20" x2="148.92" y2="346.40" stroke="#1a1a1a" stroke-width="1.1" />
<line x1="195.68" y1="501.00" x2="195.68" y2="496.80" stroke="#1a1a1a" stroke-width="1.1" />
<line x1="195.68" y1="342.20" x2="195.68" y2="346.40" stroke="#1a1a1a" stroke-width="1.1" />
<line x1="242.44" y1="501.00" x2="242.44" y2="496.80" stroke="#1a1a1a" stroke-width="1.1" />
<line x1="242.44" y1="342.20" x2="242.44" y2="346.40" stroke="#1a1a1a" stroke-width="1.1" />
<line x1="289.20" y1="501.00" x2="289.20" y2="496.80" stroke="#1a1a1a" stroke-width="1.1" />
<line x1="289.20" y1="342.20" x2="289.20" y2="346.40" stroke="#1a1a1a" stroke-width="1.1" />
<line x1="78.78" y1="501.00" x2="78.78" y2="498.40" stroke="#1a1a1a" stroke-width="1.1" />
<line x1="78.78" y1="342.20" x2="78.78" y2="344.80" stroke="#1a1a1a" stroke-width="1.1" />
<line x1="125.54" y1="501.00" x2="125.54" y2="498.40" stroke="#1a1a1a" stroke-width="1.1" />
<line x1="125.54" y1="342.20" x2="125.54" y2="344.80" stroke="#1a1a1a" stroke-width="1.1" />
<line x1="172.30" y1="501.00" x2="172.30" y2="498.40" stroke="#1a1a1a" stroke-width="1.1" />
<line x1="172.30" y1="342.20" x2="172.30" y2="344.80" stroke="#1a1a1a" stroke-width="1.1" />
<line x1="219.06" y1="501.00" x2="219.06" y2="498.40" stroke="#1a1a1a" stroke-width="1.1" />
<line x1="219.06" y1="342.20" x2="219.06" y2="344.80" stroke="#1a1a1a" stroke-width="1.1" />
<line x1="265.82" y1="501.00" x2="265.82" y2="498.40" stroke="#1a1a1a" stroke-width="1.1" />
<line x1="265.82" y1="342.20" x2="265.82" y2="344.80" stroke="#1a1a1a" stroke-width="1.1" />
<line x1="55.40" y1="474.53" x2="59.60" y2="474.53" stroke="#1a1a1a" stroke-width="1.1" />
<line x1="312.50" y1="474.53" x2="308.30" y2="474.53" stroke="#1a1a1a" stroke-width="1.1" />
<line x1="55.40" y1="448.07" x2="59.60" y2="448.07" stroke="#1a1a1a" stroke-width="1.1" />
<line x1="312.50" y1="448.07" x2="308.30" y2="448.07" stroke="#1a1a1a" stroke-width="1.1" />
<line x1="55.40" y1="421.60" x2="59.60" y2="421.60" stroke="#1a1a1a" stroke-width="1.1" />
<line x1="312.50" y1="421.60" x2="308.30" y2="421.60" stroke="#1a1a1a" stroke-width="1.1" />
<line x1="55.40" y1="395.13" x2="59.60" y2="395.13" stroke="#1a1a1a" stroke-width="1.1" />
<line x1="312.50" y1="395.13" x2="308.30" y2="395.13" stroke="#1a1a1a" stroke-width="1.1" />
<line x1="55.40" y1="368.67" x2="59.60" y2="368.67" stroke="#1a1a1a" stroke-width="1.1" />
<line x1="312.50" y1="368.67" x2="308.30" y2="368.67" stroke="#1a1a1a" stroke-width="1.1" />
<line x1="55.40" y1="487.77" x2="58.00" y2="487.77" stroke="#1a1a1a" stroke-width="1.1" />
<line x1="312.50" y1="487.77" x2="309.90" y2="487.77" stroke="#1a1a1a" stroke-width="1.1" />
<line x1="55.40" y1="461.30" x2="58.00" y2="461.30" stroke="#1a1a1a" stroke-width="1.1" />
<line x1="312.50" y1="461.30" x2="309.90" y2="461.30" stroke="#1a1a1a" stroke-width="1.1" />
<line x1="55.40" y1="434.83" x2="58.00" y2="434.83" stroke="#1a1a1a" stroke-width="1.1" />
<line x1="312.50" y1="434.83" x2="309.90" y2="434.83" stroke="#1a1a1a" stroke-width="1.1" />
<line x1="55.40" y1="408.37" x2="58.00" y2="408.37" stroke="#1a1a1a" stroke-width="1.1" />
<line x1="312.50" y1="408.37" x2="309.90" y2="408.37" stroke="#1a1a1a" stroke-width="1.1" />
<line x1="55.40" y1="381.90" x2="58.00" y2="381.90" stroke="#1a1a1a" stroke-width="1.1" />
<line x1="312.50" y1="381.90" x2="309.90" y2="381.90" stroke="#1a1a1a" stroke-width="1.1" />
<line x1="55.40" y1="355.43" x2="58.00" y2="355.43" stroke="#1a1a1a" stroke-width="1.1" />
<line x1="312.50" y1="355.43" x2="309.90" y2="355.43" stroke="#1a1a1a" stroke-width="1.1" />
<text transform="translate(50.40,507.20) scale(1,1.1)" font-size="16.8" text-anchor="end" style="" >0.0</text>
<text transform="translate(50.40,480.73) scale(1,1.1)" font-size="16.8" text-anchor="end" style="" >0.2</text>
<text transform="translate(50.40,454.27) scale(1,1.1)" font-size="16.8" text-anchor="end" style="" >0.4</text>
<text transform="translate(50.40,427.80) scale(1,1.1)" font-size="16.8" text-anchor="end" style="" >0.6</text>
<text transform="translate(50.40,401.33) scale(1,1.1)" font-size="16.8" text-anchor="end" style="" >0.8</text>
<text transform="translate(50.40,374.87) scale(1,1.1)" font-size="16.8" text-anchor="end" style="" >1.0</text>
<text transform="translate(50.40,348.40) scale(1,1.1)" font-size="16.8" text-anchor="end" style="" >1.2</text>
<text transform="translate(55.40,520.00) scale(1,1.1)" font-size="16.8" text-anchor="middle" style="" >0</text>
<text transform="translate(102.16,520.00) scale(1,1.1)" font-size="16.8" text-anchor="middle" style="" >2</text>
<text transform="translate(148.92,520.00) scale(1,1.1)" font-size="16.8" text-anchor="middle" style="" >4</text>
<text transform="translate(195.68,520.00) scale(1,1.1)" font-size="16.8" text-anchor="middle" style="" >6</text>
<text transform="translate(242.44,520.00) scale(1,1.1)" font-size="16.8" text-anchor="middle" style="" >8</text>
<text transform="translate(289.20,520.00) scale(1,1.1)" font-size="16.8" text-anchor="middle" style="" >10</text>
<text transform="translate(184.20,543.60) scale(1,1.05)" font-size="17.95" text-anchor="middle" style="" >[mT] μM</text>
<text transform="translate(17.9,422.1) rotate(-90)" font-size="17.8" text-anchor="middle">Normalized Amplitude</text>
<clipPath id="cc"><rect x="55.4" y="342.2" width="257.1" height="158.8"/></clipPath>
<g clip-path="url(#cc)">
<line x1="55.40" y1="363.40" x2="312.50" y2="446.90" stroke="#111" stroke-width="1.3" />
<line x1="55.40" y1="359.10" x2="312.50" y2="420.10" stroke="#4250ab" stroke-width="1.3" />
</g>
<path d="M144.52,407.30 L148.92,405.30 L153.32,407.30 L148.92,409.30Z" fill="#111"/>
<line x1="144.82" y1="407.30" x2="153.02" y2="407.30" stroke="#111" stroke-width="1.3" />
<circle cx="148.92" cy="407.30" r="2.35" fill="#111"/>
<path d="M167.90,407.80 L172.30,405.80 L176.70,407.80 L172.30,409.80Z" fill="#111"/>
<line x1="168.20" y1="407.80" x2="176.40" y2="407.80" stroke="#111" stroke-width="1.3" />
<circle cx="172.30" cy="407.80" r="2.35" fill="#111"/>
<path d="M238.04,401.60 L242.44,399.60 L246.84,401.60 L242.44,403.60Z" fill="#111"/>
<line x1="238.34" y1="401.60" x2="246.54" y2="401.60" stroke="#111" stroke-width="1.3" />
<circle cx="242.44" cy="401.60" r="2.35" fill="#111"/>
<path d="M284.80,439.30 L289.20,437.30 L293.60,439.30 L289.20,441.30Z" fill="#111"/>
<line x1="285.10" y1="439.30" x2="293.30" y2="439.30" stroke="#111" stroke-width="1.3" />
<circle cx="289.20" cy="439.30" r="2.35" fill="#111"/>
<path d="M97.76,368.70 L102.16,366.70 L106.56,368.70 L102.16,370.70Z" fill="#4250ab"/>
<line x1="98.06" y1="368.70" x2="106.26" y2="368.70" stroke="#4250ab" stroke-width="1.3" />
<circle cx="102.16" cy="368.70" r="2.35" fill="#4250ab"/>
<path d="M144.52,380.10 L148.92,378.10 L153.32,380.10 L148.92,382.10Z" fill="#4250ab"/>
<line x1="144.82" y1="380.10" x2="153.02" y2="380.10" stroke="#4250ab" stroke-width="1.3" />
<circle cx="148.92" cy="380.10" r="2.35" fill="#4250ab"/>
<path d="M167.90,397.30 L172.30,395.30 L176.70,397.30 L172.30,399.30Z" fill="#4250ab"/>
<line x1="168.20" y1="397.30" x2="176.40" y2="397.30" stroke="#4250ab" stroke-width="1.3" />
<circle cx="172.30" cy="397.30" r="2.35" fill="#4250ab"/>
<path d="M238.04,400.20 L242.44,398.20 L246.84,400.20 L242.44,402.20Z" fill="#4250ab"/>
<line x1="238.34" y1="400.20" x2="246.54" y2="400.20" stroke="#4250ab" stroke-width="1.3" />
<circle cx="242.44" cy="400.20" r="2.35" fill="#4250ab"/>
<path d="M284.80,415.60 L289.20,413.60 L293.60,415.60 L289.20,417.60Z" fill="#4250ab"/>
<line x1="285.10" y1="415.60" x2="293.30" y2="415.60" stroke="#4250ab" stroke-width="1.3" />
<circle cx="289.20" cy="415.60" r="2.35" fill="#4250ab"/>
<rect x="67.8" y="447.9" width="133.4" height="35.4" fill="#fff" stroke="#777" stroke-width="0.9"/>
<circle cx="84.10" cy="456.50" r="2.5" fill="#111"/>
<circle cx="84.10" cy="474.00" r="2.5" fill="#4250ab"/>
<text x="103.30" y="462.10" font-size="13.6" text-anchor="start" style="stroke-width:0.08px" >Myo19-3IQ</text>
<text x="103.30" y="479.40" font-size="13.6" text-anchor="start" style="stroke-width:0.08px" >Acto·Myo19-3IQ</text>
<rect x="401.40" y="338.00" width="257.10" height="158.90" fill="none" stroke="#1a1a1a" stroke-width="1.3"/>
<line x1="448.18" y1="496.90" x2="448.18" y2="492.70" stroke="#1a1a1a" stroke-width="1.1" />
<line x1="448.18" y1="338.00" x2="448.18" y2="342.20" stroke="#1a1a1a" stroke-width="1.1" />
<line x1="494.96" y1="496.90" x2="494.96" y2="492.70" stroke="#1a1a1a" stroke-width="1.1" />
<line x1="494.96" y1="338.00" x2="494.96" y2="342.20" stroke="#1a1a1a" stroke-width="1.1" />
<line x1="541.74" y1="496.90" x2="541.74" y2="492.70" stroke="#1a1a1a" stroke-width="1.1" />
<line x1="541.74" y1="338.00" x2="541.74" y2="342.20" stroke="#1a1a1a" stroke-width="1.1" />
<line x1="588.52" y1="496.90" x2="588.52" y2="492.70" stroke="#1a1a1a" stroke-width="1.1" />
<line x1="588.52" y1="338.00" x2="588.52" y2="342.20" stroke="#1a1a1a" stroke-width="1.1" />
<line x1="635.30" y1="496.90" x2="635.30" y2="492.70" stroke="#1a1a1a" stroke-width="1.1" />
<line x1="635.30" y1="338.00" x2="635.30" y2="342.20" stroke="#1a1a1a" stroke-width="1.1" />
<line x1="424.79" y1="496.90" x2="424.79" y2="494.30" stroke="#1a1a1a" stroke-width="1.1" />
<line x1="424.79" y1="338.00" x2="424.79" y2="340.60" stroke="#1a1a1a" stroke-width="1.1" />
<line x1="471.57" y1="496.90" x2="471.57" y2="494.30" stroke="#1a1a1a" stroke-width="1.1" />
<line x1="471.57" y1="338.00" x2="471.57" y2="340.60" stroke="#1a1a1a" stroke-width="1.1" />
<line x1="518.35" y1="496.90" x2="518.35" y2="494.30" stroke="#1a1a1a" stroke-width="1.1" />
<line x1="518.35" y1="338.00" x2="518.35" y2="340.60" stroke="#1a1a1a" stroke-width="1.1" />
<line x1="565.13" y1="496.90" x2="565.13" y2="494.30" stroke="#1a1a1a" stroke-width="1.1" />
<line x1="565.13" y1="338.00" x2="565.13" y2="340.60" stroke="#1a1a1a" stroke-width="1.1" />
<line x1="611.91" y1="496.90" x2="611.91" y2="494.30" stroke="#1a1a1a" stroke-width="1.1" />
<line x1="611.91" y1="338.00" x2="611.91" y2="340.60" stroke="#1a1a1a" stroke-width="1.1" />
<line x1="401.40" y1="465.12" x2="405.60" y2="465.12" stroke="#1a1a1a" stroke-width="1.1" />
<line x1="658.50" y1="465.12" x2="654.30" y2="465.12" stroke="#1a1a1a" stroke-width="1.1" />
<line x1="401.40" y1="433.34" x2="405.60" y2="433.34" stroke="#1a1a1a" stroke-width="1.1" />
<line x1="658.50" y1="433.34" x2="654.30" y2="433.34" stroke="#1a1a1a" stroke-width="1.1" />
<line x1="401.40" y1="401.56" x2="405.60" y2="401.56" stroke="#1a1a1a" stroke-width="1.1" />
<line x1="658.50" y1="401.56" x2="654.30" y2="401.56" stroke="#1a1a1a" stroke-width="1.1" />
<line x1="401.40" y1="369.78" x2="405.60" y2="369.78" stroke="#1a1a1a" stroke-width="1.1" />
<line x1="658.50" y1="369.78" x2="654.30" y2="369.78" stroke="#1a1a1a" stroke-width="1.1" />
<line x1="401.40" y1="481.01" x2="404.00" y2="481.01" stroke="#1a1a1a" stroke-width="1.1" />
<line x1="658.50" y1="481.01" x2="655.90" y2="481.01" stroke="#1a1a1a" stroke-width="1.1" />
<line x1="401.40" y1="449.23" x2="404.00" y2="449.23" stroke="#1a1a1a" stroke-width="1.1" />
<line x1="658.50" y1="449.23" x2="655.90" y2="449.23" stroke="#1a1a1a" stroke-width="1.1" />
<line x1="401.40" y1="417.45" x2="404.00" y2="417.45" stroke="#1a1a1a" stroke-width="1.1" />
<line x1="658.50" y1="417.45" x2="655.90" y2="417.45" stroke="#1a1a1a" stroke-width="1.1" />
<line x1="401.40" y1="385.67" x2="404.00" y2="385.67" stroke="#1a1a1a" stroke-width="1.1" />
<line x1="658.50" y1="385.67" x2="655.90" y2="385.67" stroke="#1a1a1a" stroke-width="1.1" />
<line x1="401.40" y1="353.89" x2="404.00" y2="353.89" stroke="#1a1a1a" stroke-width="1.1" />
<line x1="658.50" y1="353.89" x2="655.90" y2="353.89" stroke="#1a1a1a" stroke-width="1.1" />
<text transform="translate(396.60,503.10) scale(1,1.1)" font-size="16.8" text-anchor="end" style="" >0</text>
<text transform="translate(396.60,471.32) scale(1,1.1)" font-size="16.8" text-anchor="end" style="" >5</text>
<text transform="translate(396.60,439.54) scale(1,1.1)" font-size="16.8" text-anchor="end" style="" >10</text>
<text transform="translate(396.60,407.76) scale(1,1.1)" font-size="16.8" text-anchor="end" style="" >15</text>
<text transform="translate(396.60,375.98) scale(1,1.1)" font-size="16.8" text-anchor="end" style="" >20</text>
<text transform="translate(396.60,344.20) scale(1,1.1)" font-size="16.8" text-anchor="end" style="" >25</text>
<text transform="translate(401.40,515.50) scale(1,1.1)" font-size="16.8" text-anchor="middle" style="" >0</text>
<text transform="translate(448.18,515.50) scale(1,1.1)" font-size="16.8" text-anchor="middle" style="" >2</text>
<text transform="translate(494.96,515.50) scale(1,1.1)" font-size="16.8" text-anchor="middle" style="" >4</text>
<text transform="translate(541.74,515.50) scale(1,1.1)" font-size="16.8" text-anchor="middle" style="" >6</text>
<text transform="translate(588.52,515.50) scale(1,1.1)" font-size="16.8" text-anchor="middle" style="" >8</text>
<text transform="translate(635.30,515.50) scale(1,1.1)" font-size="16.8" text-anchor="middle" style="" >10</text>
<text transform="translate(530.20,539.30) scale(1,1.05)" font-size="17.95" text-anchor="middle" style="" >[mT] μM</text>
<text transform="translate(365.3,417.5) rotate(-90)" font-size="17.6" text-anchor="middle">SNR (%)</text>
<clipPath id="cd"><rect x="401.4" y="338.0" width="257.1" height="158.89999999999998"/></clipPath>
<g clip-path="url(#cd)">
<line x1="401.40" y1="428.30" x2="658.50" y2="490.10" stroke="#111" stroke-width="1.3" />
<line x1="401.40" y1="354.50" x2="658.50" y2="482.50" stroke="#4250ab" stroke-width="1.3" />
</g>
<line x1="448.18" y1="338.00" x2="448.18" y2="344.50" stroke="#222" stroke-width="1.2" />
<path d="M443.78,404.90 L448.18,402.90 L452.58,404.90 L448.18,406.90Z" fill="#111"/>
<line x1="444.08" y1="404.90" x2="452.28" y2="404.90" stroke="#111" stroke-width="1.3" />
<circle cx="448.18" cy="404.90" r="2.35" fill="#111"/>
<path d="M490.56,451.30 L494.96,449.30 L499.36,451.30 L494.96,453.30Z" fill="#111"/>
<line x1="490.86" y1="451.30" x2="499.06" y2="451.30" stroke="#111" stroke-width="1.3" />
<circle cx="494.96" cy="451.30" r="2.35" fill="#111"/>
<path d="M513.95,461.20 L518.35,459.20 L522.75,461.20 L518.35,463.20Z" fill="#111"/>
<line x1="514.25" y1="461.20" x2="522.45" y2="461.20" stroke="#111" stroke-width="1.3" />
<circle cx="518.35" cy="461.20" r="2.35" fill="#111"/>
<path d="M584.12,468.70 L588.52,466.70 L592.92,468.70 L588.52,470.70Z" fill="#111"/>
<line x1="584.42" y1="468.70" x2="592.62" y2="468.70" stroke="#111" stroke-width="1.3" />
<circle cx="588.52" cy="468.70" r="2.35" fill="#111"/>
<path d="M630.90,484.80 L635.30,482.80 L639.70,484.80 L635.30,486.80Z" fill="#111"/>
<line x1="631.20" y1="484.80" x2="639.40" y2="484.80" stroke="#111" stroke-width="1.3" />
<circle cx="635.30" cy="484.80" r="2.35" fill="#111"/>
<path d="M443.78,345.70 L448.18,343.70 L452.58,345.70 L448.18,347.70Z" fill="#4250ab"/>
<line x1="444.08" y1="345.70" x2="452.28" y2="345.70" stroke="#4250ab" stroke-width="1.3" />
<circle cx="448.18" cy="345.70" r="2.35" fill="#4250ab"/>
<path d="M490.56,399.90 L494.96,397.90 L499.36,399.90 L494.96,401.90Z" fill="#4250ab"/>
<line x1="490.86" y1="399.90" x2="499.06" y2="399.90" stroke="#4250ab" stroke-width="1.3" />
<circle cx="494.96" cy="399.90" r="2.35" fill="#4250ab"/>
<path d="M513.95,437.10 L518.35,435.10 L522.75,437.10 L518.35,439.10Z" fill="#4250ab"/>
<line x1="514.25" y1="437.10" x2="522.45" y2="437.10" stroke="#4250ab" stroke-width="1.3" />
<circle cx="518.35" cy="437.10" r="2.35" fill="#4250ab"/>
<path d="M584.12,443.50 L588.52,441.50 L592.92,443.50 L588.52,445.50Z" fill="#4250ab"/>
<line x1="584.42" y1="443.50" x2="592.62" y2="443.50" stroke="#4250ab" stroke-width="1.3" />
<circle cx="588.52" cy="443.50" r="2.35" fill="#4250ab"/>
<path d="M630.90,468.20 L635.30,466.20 L639.70,468.20 L635.30,470.20Z" fill="#4250ab"/>
<line x1="631.20" y1="468.20" x2="639.40" y2="468.20" stroke="#4250ab" stroke-width="1.3" />
<circle cx="635.30" cy="468.20" r="2.35" fill="#4250ab"/>
<rect x="513.5" y="352.4" width="134" height="34.8" fill="#fff" stroke="#777" stroke-width="0.9"/>
<circle cx="530.40" cy="360.80" r="2.5" fill="#111"/>
<circle cx="530.40" cy="379.00" r="2.5" fill="#4250ab"/>
<text x="549.60" y="367.40" font-size="13.6" text-anchor="start" style="stroke-width:0.08px" >Myo19-3IQ</text>
<text x="549.60" y="384.30" font-size="13.6" text-anchor="start" style="stroke-width:0.08px" >Acto·Myo19-3IQ</text>
<path d="M7.9,631.8 H1.75 V679.0 H7.9" fill="none" stroke="#111" stroke-width="1.3"/>
<text x="11.00" y="661.30" font-size="22" text-anchor="start" style="" textLength="60.3" lengthAdjust="spacingAndGlyphs" >M+<tspan font-style="italic">m</tspan>T</text>
<path d="M74.9,651.3 H162.70000000000002 M157.9,646.0 L163.3,651.3 L157.9,656.5999999999999" fill="none" stroke="#111" stroke-width="1.35" stroke-linejoin="miter"/>
<path d="M163.3,659.2 H75.5 M80.30000000000001,653.9000000000001 L74.9,659.2 L80.30000000000001,664.5" fill="none" stroke="#111" stroke-width="1.35" stroke-linejoin="miter"/>
<text x="98.00" y="643.40" font-size="12" text-anchor="start" style="font-style:italic;stroke-width:0.1px;" >K</text>
<text x="107.40" y="647.60" font-size="8.3" text-anchor="start" style="font-style:italic;stroke-width:0.1px" textLength="32.2" lengthAdjust="spacing">T,R.EQ</text>
<text x="167.00" y="661.30" font-size="22" text-anchor="start" style="" >M</text>
<circle cx="194.4" cy="651.1" r="1.9" fill="#111"/>
<circle cx="194.4" cy="659.2" r="1.9" fill="#111"/>
<text x="202.40" y="661.30" font-size="22" text-anchor="start" style="font-style:italic;" >m</text>
<text x="217.50" y="661.30" font-size="22" text-anchor="start" style="" >T</text>
<path d="M233.9,631.3 H240.6 V679.0 H233.9" fill="none" stroke="#111" stroke-width="1.3"/>
<path d="M244.9,651.0 H316.9 M312.1,645.7 L317.5,651.0 L312.1,656.3" fill="none" stroke="#111" stroke-width="1.35" stroke-linejoin="miter"/>
<path d="M317.5,659.2 H245.5 M250.3,653.9000000000001 L244.9,659.2 L250.3,664.5" fill="none" stroke="#111" stroke-width="1.35" stroke-linejoin="miter"/>
<text x="267.00" y="645.80" font-size="12" text-anchor="start" style="font-style:italic;stroke-width:0.1px;" >k</text>
<text x="272.80" y="649.90" font-size="9" text-anchor="start" style="stroke-width:0.1px;" textLength="21.8" lengthAdjust="spacingAndGlyphs" >+1<tspan font-style="italic">m</tspan>T</text>
<text x="267.00" y="671.50" font-size="12" text-anchor="start" style="font-style:italic;stroke-width:0.1px;" >k</text>
<text x="272.80" y="676.10" font-size="9" text-anchor="start" style="stroke-width:0.1px;" textLength="21.8" lengthAdjust="spacingAndGlyphs" >−1<tspan font-style="italic">m</tspan>T</text>
<text x="321.50" y="661.30" font-size="22" text-anchor="start" style="" >M</text>
<circle cx="348.5" cy="655.5" r="2.5" fill="#111"/>
<text x="356.30" y="661.30" font-size="22" text-anchor="start" style="font-style:italic;" >m</text>
<text x="372.00" y="661.30" font-size="22" text-anchor="start" style="" >T</text>
<text x="386.30" y="653.20" font-size="14" text-anchor="start" style="" >*</text>
<path d="M396.8,651.2 H486.2 M481.40000000000003,645.9000000000001 L486.8,651.2 L481.40000000000003,656.5" fill="none" stroke="#111" stroke-width="1.35" stroke-linejoin="miter"/>
<path d="M486.8,659.2 H397.40000000000003 M402.2,653.9000000000001 L396.8,659.2 L402.2,664.5" fill="none" stroke="#111" stroke-width="1.35" stroke-linejoin="miter"/>
<text x="418.90" y="644.60" font-size="12" text-anchor="start" style="font-style:italic;stroke-width:0.1px;" >k</text>
<text x="424.70" y="648.70" font-size="9" text-anchor="start" style="font-style:italic;stroke-width:0.1px;" textLength="14.8" lengthAdjust="spacingAndGlyphs" >+ H</text>
<text x="440.60" y="644.60" font-size="12" text-anchor="start" style="font-style:italic;stroke-width:0.1px;" >,</text>
<text x="444.40" y="644.60" font-size="12" text-anchor="start" style="font-style:italic;stroke-width:0.1px;" textLength="19.4" lengthAdjust="spacingAndGlyphs" >fast</text>
<text x="431.30" y="671.60" font-size="12" text-anchor="start" style="font-style:italic;stroke-width:0.1px;" >k</text>
<text x="437.10" y="676.40" font-size="9" text-anchor="start" style="font-style:italic;stroke-width:0.1px;" textLength="14.2" lengthAdjust="spacingAndGlyphs" >− H</text>
<text x="490.80" y="661.30" font-size="22" text-anchor="start" style="" >M</text>
<circle cx="517.4" cy="655.7" r="2.5" fill="#111"/>
<text x="525.00" y="661.30" font-size="22" text-anchor="start" style="font-style:italic;" >m</text>
<text x="541.00" y="661.30" font-size="22" text-anchor="start" style="" >D</text>
<text x="558.30" y="653.20" font-size="14" text-anchor="start" style="" >*</text>
<circle cx="571.7" cy="655.7" r="2.5" fill="#111"/>
<text x="579.40" y="661.30" font-size="22" text-anchor="start" style="" >P</text>
<text x="590.40" y="668.20" font-size="11" text-anchor="start" style="stroke-width:0.1px;" >i</text>
<path d="M7.3,690.1 H1.75 V736.4 H7.3" fill="none" stroke="#111" stroke-width="1.3"/>
<text x="10.30" y="719.80" font-size="22" text-anchor="start" style="" textLength="75.8" lengthAdjust="spacingAndGlyphs" >AM+<tspan font-style="italic">m</tspan>T</text>
<path d="M90.6,709.9 H182.9 M178.1,704.6 L183.5,709.9 L178.1,715.1999999999999" fill="none" stroke="#111" stroke-width="1.35" stroke-linejoin="miter"/>
<path d="M183.5,717.9 H91.19999999999999 M96.0,712.6 L90.6,717.9 L96.0,723.1999999999999" fill="none" stroke="#111" stroke-width="1.35" stroke-linejoin="miter"/>
<text x="113.40" y="702.30" font-size="12" text-anchor="start" style="font-style:italic;stroke-width:0.1px;" >K</text>
<text x="123.60" y="702.30" font-size="12" text-anchor="start" style="stroke-width:0.1px;" >’</text>
<text x="127.20" y="706.50" font-size="8.3" text-anchor="start" style="font-style:italic;stroke-width:0.1px" textLength="33.2" lengthAdjust="spacing">T,R.EQ</text>
<text x="187.00" y="719.80" font-size="22" text-anchor="start" style="" >AM</text>
<circle cx="230.1" cy="710.7" r="1.9" fill="#111"/>
<circle cx="230.1" cy="718.7" r="1.9" fill="#111"/>
<text x="238.30" y="719.80" font-size="22" text-anchor="start" style="font-style:italic;" >m</text>
<text x="253.00" y="719.80" font-size="22" text-anchor="start" style="" >T</text>
<path d="M270.3,689.8 H276.5 V737.0 H270.3" fill="none" stroke="#111" stroke-width="1.3"/>
<path d="M280.9,709.7 H358.0 M353.20000000000005,704.4000000000001 L358.6,709.7 L353.20000000000005,715.0" fill="none" stroke="#111" stroke-width="1.35" stroke-linejoin="miter"/>
<path d="M358.6,717.8 H281.5 M286.29999999999995,712.5 L280.9,717.8 L286.29999999999995,723.0999999999999" fill="none" stroke="#111" stroke-width="1.35" stroke-linejoin="miter"/>
<text x="303.00" y="704.00" font-size="12" text-anchor="start" style="font-style:italic;stroke-width:0.1px;" >k</text>
<text x="310.60" y="704.00" font-size="12" text-anchor="start" style="stroke-width:0.1px;" >’</text>
<text x="314.20" y="709.30" font-size="9" text-anchor="start" style="stroke-width:0.1px;" textLength="21.9" lengthAdjust="spacingAndGlyphs" >+1<tspan font-style="italic">m</tspan>T</text>
<text x="303.00" y="730.30" font-size="12" text-anchor="start" style="font-style:italic;stroke-width:0.1px;" >k</text>
<text x="310.60" y="730.30" font-size="12" text-anchor="start" style="stroke-width:0.1px;" >’</text>
<text x="314.20" y="735.60" font-size="9" text-anchor="start" style="stroke-width:0.1px;" textLength="21.9" lengthAdjust="spacingAndGlyphs" >−1<tspan font-style="italic">m</tspan>T</text>
<text x="363.00" y="719.80" font-size="22" text-anchor="start" style="" >AM</text>
<circle cx="404.8" cy="714.3" r="2.5" fill="#111"/>
<text x="412.20" y="719.80" font-size="22" text-anchor="start" style="font-style:italic;" >m</text>
<text x="428.20" y="719.80" font-size="22" text-anchor="start" style="" >T</text>
<text x="443.30" y="711.70" font-size="14" text-anchor="start" style="" >*</text>
<path d="M453.2,709.8 H549.3 M544.5,704.5 L549.9,709.8 L544.5,715.0999999999999" fill="none" stroke="#111" stroke-width="1.35" stroke-linejoin="miter"/>
<path d="M549.9,717.7 H453.8 M458.59999999999997,712.4000000000001 L453.2,717.7 L458.59999999999997,723.0" fill="none" stroke="#111" stroke-width="1.35" stroke-linejoin="miter"/>
<text x="475.90" y="703.80" font-size="12" text-anchor="start" style="font-style:italic;stroke-width:0.1px;" >k</text>
<text x="482.80" y="703.80" font-size="12" text-anchor="start" style="stroke-width:0.1px;" >’</text>
<text x="486.80" y="708.50" font-size="9" text-anchor="start" style="font-style:italic;stroke-width:0.1px;" textLength="13.6" lengthAdjust="spacingAndGlyphs" >+ H</text>
<text x="502.80" y="703.80" font-size="12" text-anchor="start" style="font-style:italic;stroke-width:0.1px;" >,</text>
<text x="506.90" y="703.80" font-size="12" text-anchor="start" style="font-style:italic;stroke-width:0.1px;" textLength="20.7" lengthAdjust="spacingAndGlyphs" >fast</text>
<text x="488.80" y="730.30" font-size="12" text-anchor="start" style="font-style:italic;stroke-width:0.1px;" >k</text>
<text x="495.00" y="730.30" font-size="12" text-anchor="start" style="stroke-width:0.1px;" >’</text>
<text x="499.40" y="735.00" font-size="9" text-anchor="start" style="font-style:italic;stroke-width:0.1px;" textLength="14.4" lengthAdjust="spacingAndGlyphs" >− H</text>
<text x="554.00" y="719.80" font-size="22" text-anchor="start" style="" textLength="46.2" lengthAdjust="spacingAndGlyphs" >A+M</text>
<circle cx="608.8" cy="714.6" r="2.5" fill="#111"/>
<text x="616.30" y="719.80" font-size="22" text-anchor="start" style="font-style:italic;" >m</text>
<text x="632.80" y="719.80" font-size="22" text-anchor="start" style="" >D</text>
<text x="650.00" y="711.70" font-size="14" text-anchor="start" style="" >*</text>
<circle cx="663.1" cy="714.6" r="2.5" fill="#111"/>
<text x="669.90" y="719.80" font-size="22" text-anchor="start" style="" >P</text>
<text x="682.10" y="726.50" font-size="11" text-anchor="start" style="stroke-width:0.1px;" >i</text>
</svg>
</body></html>
